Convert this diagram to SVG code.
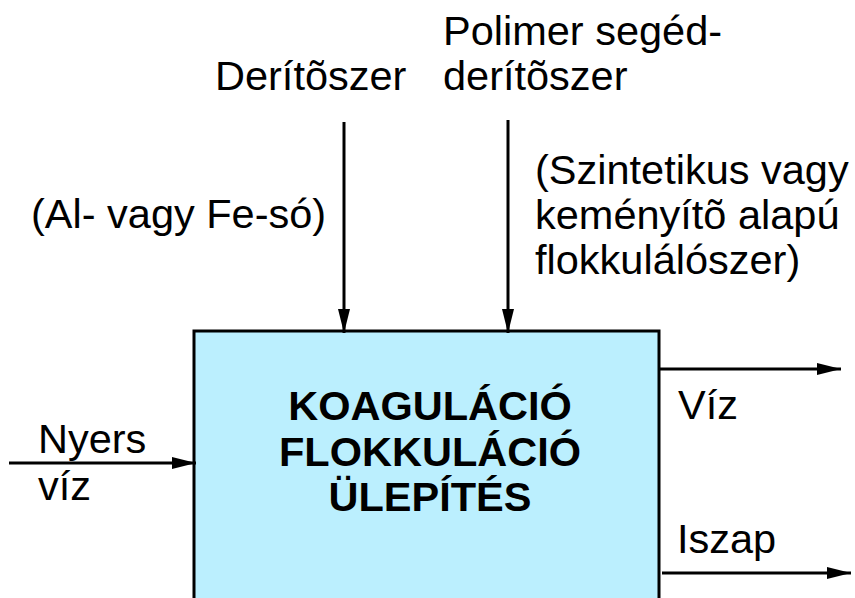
<svg xmlns="http://www.w3.org/2000/svg" width="855" height="598" viewBox="0 0 855 598">
<style>
.t{font-family:"Liberation Sans",Arial,sans-serif;font-size:41.5px;fill:#000}
.b{font-family:"Liberation Sans",Arial,sans-serif;font-size:41.5px;font-weight:bold;fill:#000}
.c{stroke:#000;stroke-width:3;fill:none}
</style>
<defs>
<marker id="ah" markerUnits="userSpaceOnUse" markerWidth="24" markerHeight="12" refX="24" refY="6" orient="auto">
<path d="M0,0 L24,6 L0,12 Z" fill="#000"/>
</marker>
</defs>
<rect width="855" height="598" fill="#fff"/>
<g id="process">
<rect x="194" y="331" width="465" height="290" fill="#BBEFFE" stroke="#000" stroke-width="3"/>
<text class="b" x="430" y="420" text-anchor="middle">KOAGULÁCIÓ</text>
<text class="b" x="430" y="466" text-anchor="middle">FLOKKULÁCIÓ</text>
<text class="b" x="430" y="511" text-anchor="middle">ÜLEPÍTÉS</text>
</g>
<g id="connectors">
<line class="c" x1="9" y1="463" x2="196" y2="463" marker-end="url(#ah)"/>
<line class="c" x1="344" y1="122" x2="344" y2="333" marker-end="url(#ah)"/>
<line class="c" x1="508" y1="120" x2="508" y2="333" marker-end="url(#ah)"/>
<line class="c" x1="659" y1="369" x2="841" y2="369" marker-end="url(#ah)"/>
<line class="c" x1="662" y1="573" x2="851" y2="573" marker-end="url(#ah)"/>
</g>
<g id="label-deritoszer">
<text class="t" x="215" y="90">Derítõszer</text>
<text class="t" x="31" y="228">(Al- vagy Fe-só)</text>
</g>
<g id="label-polimer">
<text class="t" x="443" y="45">Polimer segéd-</text>
<text class="t" x="443" y="90">derítõszer</text>
<text class="t" x="535" y="184">(Szintetikus vagy</text>
<text class="t" x="535" y="229">keményítõ alapú</text>
<text class="t" x="535" y="274">flokkulálószer)</text>
</g>
<g id="label-nyers">
<text class="t" x="38" y="453">Nyers</text>
<text class="t" x="38" y="500">víz</text>
</g>
<g id="label-viz">
<text class="t" x="678" y="419">Víz</text>
</g>
<g id="label-iszap">
<text class="t" x="677" y="553">Iszap</text>
</g>
</svg>
